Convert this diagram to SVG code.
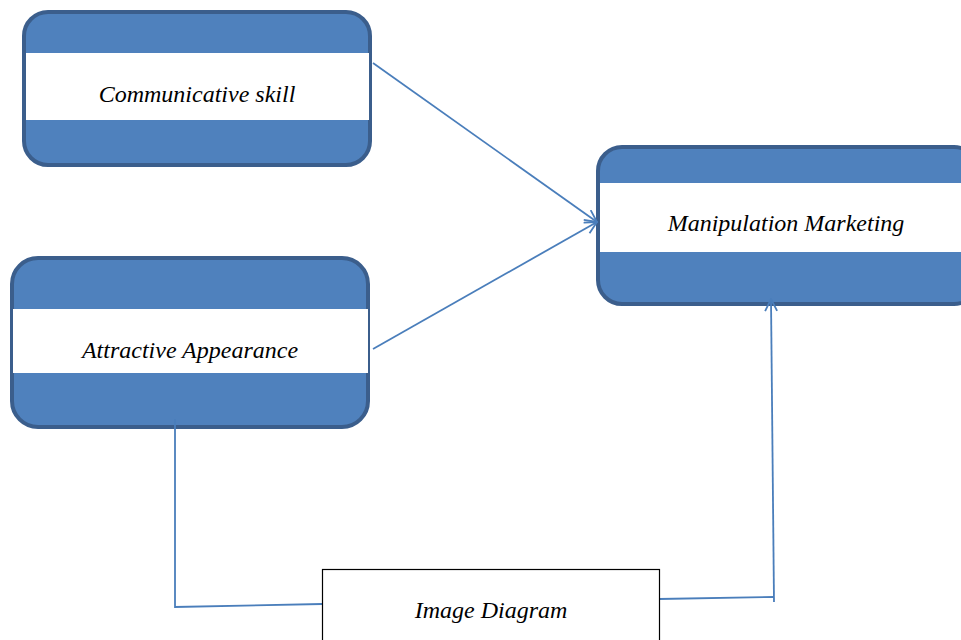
<svg xmlns="http://www.w3.org/2000/svg" width="961" height="640" viewBox="0 0 961 640">
<style>
.box{fill:#4F81BD;stroke:#3B5E8C;stroke-width:4}
.band{fill:#FFFFFF}
.lbl{font-family:"Liberation Serif","Times New Roman",serif;font-style:italic;font-size:24px;fill:#000;text-anchor:middle}
.conn{fill:none;stroke:#4A7EBB;stroke-width:1.8}
</style>
<defs>
<marker id="arr" viewBox="0 0 14 14" refX="13" refY="7" markerWidth="14" markerHeight="14" markerUnits="userSpaceOnUse" orient="auto">
<path d="M1,1 L13,7 L1,13" fill="none" stroke="#4A7EBB" stroke-width="1.8"/>
</marker>
</defs>
<rect width="961" height="640" fill="#FFFFFF"/>
<g id="communicative">
<rect class="box" x="24" y="12" width="346" height="153" rx="24"/>
<rect class="band" x="26" y="53" width="343" height="67"/>
<text class="lbl" x="197" y="102">Communicative skill</text>
</g>
<g id="attractive">
<rect class="box" x="12" y="258" width="356" height="169" rx="26"/>
<rect class="band" x="13" y="309" width="355" height="64"/>
<text class="lbl" x="190" y="358">Attractive Appearance</text>
</g>
<g id="manipulation">
<rect class="box" x="598" y="147" width="380" height="157" rx="24"/>
<rect class="band" x="600" y="183" width="361" height="69"/>
<text class="lbl" x="786" y="231">Manipulation Marketing</text>
</g>
<g id="connectors">
<line class="conn" x1="373" y1="63" x2="597" y2="222" marker-end="url(#arr)"/>
<line class="conn" x1="373" y1="349" x2="597" y2="222" marker-end="url(#arr)"/>
<polyline class="conn" points="175,419 175,607 322,604"/>
<polyline class="conn" points="659,599 774,597"/>
<line class="conn" x1="774" y1="602" x2="771" y2="299" marker-end="url(#arr)"/>
</g>
<g id="image">
<rect x="322.5" y="569.5" width="337" height="80" fill="#FFFFFF" stroke="#000000" stroke-width="1.2"/>
<text class="lbl" x="491" y="618">Image Diagram</text>
</g>
</svg>
